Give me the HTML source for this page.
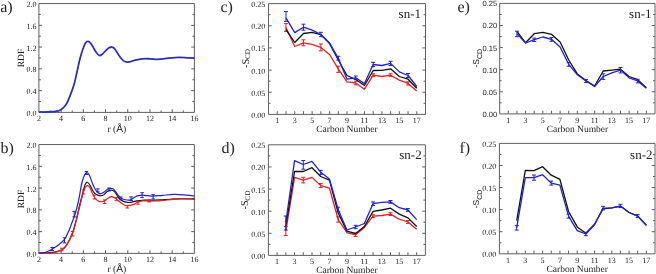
<!DOCTYPE html><html><head><meta charset="utf-8"><style>html,body{margin:0;padding:0;background:#fff;}svg{display:block;will-change:transform;filter:blur(0.3px);}text{text-rendering:geometricPrecision;}text{font-family:"Liberation Serif", serif;fill:#222;}</style></head><body>
<svg width="656" height="274" viewBox="0 0 656 274">
<rect width="656" height="274" fill="#fff"/>
<path d="M38.90 3.55 H194.40 V112.40 H38.90 Z" fill="none" stroke="#606060" stroke-width="1"/>
<path d="M50.01 112.40 V110.40 M61.11 112.40 V109.20 M72.22 112.40 V110.40 M83.33 112.40 V109.20 M94.44 112.40 V110.40 M105.54 112.40 V109.20 M116.65 112.40 V110.40 M127.76 112.40 V109.20 M138.86 112.40 V110.40 M149.97 112.40 V109.20 M161.08 112.40 V110.40 M172.19 112.40 V109.20 M183.29 112.40 V110.40 M38.90 101.52 H40.90 M194.40 101.52 H192.40 M38.90 90.63 H42.10 M194.40 90.63 H191.20 M38.90 79.75 H40.90 M194.40 79.75 H192.40 M38.90 68.86 H42.10 M194.40 68.86 H191.20 M38.90 57.98 H40.90 M194.40 57.98 H192.40 M38.90 47.09 H42.10 M194.40 47.09 H191.20 M38.90 36.20 H40.90 M194.40 36.20 H192.40 M38.90 25.32 H42.10 M194.40 25.32 H191.20 M38.90 14.44 H40.90 M194.40 14.44 H192.40 " stroke="#606060" stroke-width="1" fill="none"/>
<text x="38.90" y="120.50" font-size="8.00" text-anchor="middle" >2</text>
<text x="61.11" y="120.50" font-size="8.00" text-anchor="middle" >4</text>
<text x="83.33" y="120.50" font-size="8.00" text-anchor="middle" >6</text>
<text x="105.54" y="120.50" font-size="8.00" text-anchor="middle" >8</text>
<text x="127.76" y="120.50" font-size="8.00" text-anchor="middle" >10</text>
<text x="149.97" y="120.50" font-size="8.00" text-anchor="middle" >12</text>
<text x="172.19" y="120.50" font-size="8.00" text-anchor="middle" >14</text>
<text x="194.40" y="120.50" font-size="8.00" text-anchor="middle" >16</text>
<text x="36.40" y="115.90" font-size="8.00" text-anchor="end" >0.0</text>
<text x="36.40" y="94.13" font-size="8.00" text-anchor="end" >0.4</text>
<text x="36.40" y="72.36" font-size="8.00" text-anchor="end" >0.8</text>
<text x="36.40" y="50.59" font-size="8.00" text-anchor="end" >1.2</text>
<text x="36.40" y="28.82" font-size="8.00" text-anchor="end" >1.6</text>
<text x="36.40" y="7.05" font-size="8.00" text-anchor="end" >2.0</text>
<path d="M38.90 112.00 C40.18 112.00 43.87 112.08 46.60 112.00 C49.33 111.92 52.93 111.88 55.30 111.50 C57.67 111.12 58.97 110.92 60.80 109.70 C62.63 108.48 64.67 106.75 66.30 104.20 C67.93 101.65 69.28 97.77 70.60 94.40 C71.92 91.03 73.10 87.90 74.20 84.00 C75.30 80.10 76.33 74.83 77.20 71.00 C78.07 67.17 78.72 63.83 79.40 61.00 C80.08 58.17 80.62 56.25 81.30 54.00 C81.98 51.75 82.80 49.33 83.50 47.50 C84.20 45.67 84.80 44.02 85.50 43.00 C86.20 41.98 86.95 41.48 87.70 41.40 C88.45 41.32 89.20 41.73 90.00 42.50 C90.80 43.27 91.67 44.67 92.50 46.00 C93.33 47.33 94.17 49.17 95.00 50.50 C95.83 51.83 96.77 53.17 97.50 54.00 C98.23 54.83 98.65 55.42 99.40 55.50 C100.15 55.58 100.92 55.33 102.00 54.50 C103.08 53.67 104.73 51.62 105.90 50.50 C107.07 49.38 108.12 48.35 109.00 47.80 C109.88 47.25 110.60 47.28 111.20 47.20 C111.80 47.12 112.05 47.07 112.60 47.30 C113.15 47.53 113.67 47.62 114.50 48.60 C115.33 49.58 116.60 51.70 117.60 53.20 C118.60 54.70 119.53 56.37 120.50 57.60 C121.47 58.83 122.48 59.88 123.40 60.60 C124.32 61.32 125.15 61.65 126.00 61.90 C126.85 62.15 127.67 62.17 128.50 62.10 C129.33 62.03 129.90 61.82 131.00 61.50 C132.10 61.18 133.18 60.65 135.10 60.20 C137.02 59.75 140.05 59.03 142.50 58.80 C144.95 58.57 147.12 58.72 149.80 58.80 C152.48 58.88 155.43 59.42 158.60 59.30 C161.77 59.18 165.38 58.42 168.80 58.10 C172.22 57.78 175.93 57.45 179.10 57.40 C182.27 57.35 185.25 57.68 187.80 57.80 C190.35 57.92 193.30 58.05 194.40 58.10" stroke="#4444dd" stroke-width="1.80" fill="none" stroke-linejoin="round"/>
<path d="M38.90 112.00 C40.18 112.00 43.87 112.08 46.60 112.00 C49.33 111.92 52.93 111.88 55.30 111.50 C57.67 111.12 58.97 110.92 60.80 109.70 C62.63 108.48 64.67 106.75 66.30 104.20 C67.93 101.65 69.28 97.77 70.60 94.40 C71.92 91.03 73.10 87.90 74.20 84.00 C75.30 80.10 76.33 74.83 77.20 71.00 C78.07 67.17 78.72 63.83 79.40 61.00 C80.08 58.17 80.62 56.25 81.30 54.00 C81.98 51.75 82.80 49.33 83.50 47.50 C84.20 45.67 84.80 44.02 85.50 43.00 C86.20 41.98 86.95 41.48 87.70 41.40 C88.45 41.32 89.20 41.73 90.00 42.50 C90.80 43.27 91.67 44.67 92.50 46.00 C93.33 47.33 94.17 49.17 95.00 50.50 C95.83 51.83 96.77 53.17 97.50 54.00 C98.23 54.83 98.65 55.42 99.40 55.50 C100.15 55.58 100.92 55.33 102.00 54.50 C103.08 53.67 104.73 51.62 105.90 50.50 C107.07 49.38 108.12 48.35 109.00 47.80 C109.88 47.25 110.60 47.28 111.20 47.20 C111.80 47.12 112.05 47.07 112.60 47.30 C113.15 47.53 113.67 47.62 114.50 48.60 C115.33 49.58 116.60 51.70 117.60 53.20 C118.60 54.70 119.53 56.37 120.50 57.60 C121.47 58.83 122.48 59.88 123.40 60.60 C124.32 61.32 125.15 61.65 126.00 61.90 C126.85 62.15 127.67 62.17 128.50 62.10 C129.33 62.03 129.90 61.82 131.00 61.50 C132.10 61.18 133.18 60.65 135.10 60.20 C137.02 59.75 140.05 59.03 142.50 58.80 C144.95 58.57 147.12 58.72 149.80 58.80 C152.48 58.88 155.43 59.42 158.60 59.30 C161.77 59.18 165.38 58.42 168.80 58.10 C172.22 57.78 175.93 57.45 179.10 57.40 C182.27 57.35 185.25 57.68 187.80 57.80 C190.35 57.92 193.30 58.05 194.40 58.10" stroke="#222280" stroke-width="0.80" fill="none" stroke-linejoin="round"/>
<path d="M38.90 144.55 H194.40 V253.40 H38.90 Z" fill="none" stroke="#606060" stroke-width="1"/>
<path d="M50.01 253.40 V251.40 M61.11 253.40 V250.20 M72.22 253.40 V251.40 M83.33 253.40 V250.20 M94.44 253.40 V251.40 M105.54 253.40 V250.20 M116.65 253.40 V251.40 M127.76 253.40 V250.20 M138.86 253.40 V251.40 M149.97 253.40 V250.20 M161.08 253.40 V251.40 M172.19 253.40 V250.20 M183.29 253.40 V251.40 M38.90 242.52 H40.90 M194.40 242.52 H192.40 M38.90 231.63 H42.10 M194.40 231.63 H191.20 M38.90 220.75 H40.90 M194.40 220.75 H192.40 M38.90 209.86 H42.10 M194.40 209.86 H191.20 M38.90 198.98 H40.90 M194.40 198.98 H192.40 M38.90 188.09 H42.10 M194.40 188.09 H191.20 M38.90 177.21 H40.90 M194.40 177.21 H192.40 M38.90 166.32 H42.10 M194.40 166.32 H191.20 M38.90 155.44 H40.90 M194.40 155.44 H192.40 " stroke="#606060" stroke-width="1" fill="none"/>
<text x="38.90" y="261.50" font-size="8.00" text-anchor="middle" >2</text>
<text x="61.11" y="261.50" font-size="8.00" text-anchor="middle" >4</text>
<text x="83.33" y="261.50" font-size="8.00" text-anchor="middle" >6</text>
<text x="105.54" y="261.50" font-size="8.00" text-anchor="middle" >8</text>
<text x="127.76" y="261.50" font-size="8.00" text-anchor="middle" >10</text>
<text x="149.97" y="261.50" font-size="8.00" text-anchor="middle" >12</text>
<text x="172.19" y="261.50" font-size="8.00" text-anchor="middle" >14</text>
<text x="194.40" y="261.50" font-size="8.00" text-anchor="middle" >16</text>
<text x="36.40" y="256.90" font-size="8.00" text-anchor="end" >0.0</text>
<text x="36.40" y="235.13" font-size="8.00" text-anchor="end" >0.4</text>
<text x="36.40" y="213.36" font-size="8.00" text-anchor="end" >0.8</text>
<text x="36.40" y="191.59" font-size="8.00" text-anchor="end" >1.2</text>
<text x="36.40" y="169.82" font-size="8.00" text-anchor="end" >1.6</text>
<text x="36.40" y="148.05" font-size="8.00" text-anchor="end" >2.0</text>
<path d="M38.70 253.00 C40.25 252.97 45.12 252.98 48.00 252.80 C50.88 252.62 53.60 252.45 56.00 251.90 C58.40 251.35 60.57 250.75 62.40 249.50 C64.23 248.25 65.33 247.15 67.00 244.40 C68.67 241.65 70.85 237.13 72.40 233.00 C73.95 228.87 75.17 223.93 76.30 219.60 C77.43 215.27 78.32 210.68 79.20 207.00 C80.08 203.32 80.87 200.42 81.60 197.50 C82.33 194.58 82.98 191.70 83.60 189.50 C84.22 187.30 84.68 185.52 85.30 184.30 C85.92 183.08 86.58 182.17 87.30 182.20 C88.02 182.23 88.68 183.07 89.60 184.50 C90.52 185.93 91.87 189.25 92.80 190.80 C93.73 192.35 94.45 193.12 95.20 193.80 C95.95 194.48 96.58 194.60 97.30 194.90 C98.02 195.20 98.80 195.47 99.50 195.60 C100.20 195.73 100.75 195.87 101.50 195.70 C102.25 195.53 103.08 195.25 104.00 194.60 C104.92 193.95 106.03 192.52 107.00 191.80 C107.97 191.08 108.80 190.53 109.80 190.30 C110.80 190.07 112.02 189.92 113.00 190.40 C113.98 190.88 114.83 192.05 115.70 193.20 C116.57 194.35 117.32 196.17 118.20 197.30 C119.08 198.43 120.03 199.28 121.00 200.00 C121.97 200.72 122.95 201.22 124.00 201.60 C125.05 201.98 126.40 202.15 127.30 202.30 C128.20 202.45 128.62 202.53 129.40 202.50 C130.18 202.47 130.75 202.37 132.00 202.10 C133.25 201.83 135.23 201.22 136.90 200.90 C138.57 200.58 139.82 200.32 142.00 200.20 C144.18 200.08 147.00 200.25 150.00 200.20 C153.00 200.15 156.67 200.05 160.00 199.90 C163.33 199.75 166.50 199.48 170.00 199.30 C173.50 199.12 176.93 198.87 181.00 198.80 C185.07 198.73 192.17 198.88 194.40 198.90" stroke="#111" stroke-width="1.15" fill="none" stroke-linejoin="round"/>
<path d="M38.70 253.00 C40.58 253.00 47.12 253.17 50.00 253.00 C52.88 252.83 53.93 252.57 56.00 252.00 C58.07 251.43 60.57 250.83 62.40 249.60 C64.23 248.37 65.30 247.32 67.00 244.60 C68.70 241.88 71.02 237.40 72.60 233.30 C74.18 229.20 75.35 224.30 76.50 220.00 C77.65 215.70 78.62 211.17 79.50 207.50 C80.38 203.83 81.08 200.75 81.80 198.00 C82.52 195.25 83.13 192.88 83.80 191.00 C84.47 189.12 85.13 187.58 85.80 186.70 C86.47 185.82 87.13 185.57 87.80 185.70 C88.47 185.83 89.07 186.28 89.80 187.50 C90.53 188.72 91.33 191.25 92.20 193.00 C93.07 194.75 94.12 196.73 95.00 198.00 C95.88 199.27 96.67 200.00 97.50 200.60 C98.33 201.20 99.17 201.43 100.00 201.60 C100.83 201.77 101.67 201.78 102.50 201.60 C103.33 201.42 104.08 201.05 105.00 200.50 C105.92 199.95 107.08 198.90 108.00 198.30 C108.92 197.70 109.82 197.17 110.50 196.90 C111.18 196.63 111.52 196.60 112.10 196.70 C112.68 196.80 113.30 197.15 114.00 197.50 C114.70 197.85 115.47 198.18 116.30 198.80 C117.13 199.42 117.88 200.28 119.00 201.20 C120.12 202.12 121.85 203.57 123.00 204.30 C124.15 205.03 125.12 205.37 125.90 205.60 C126.68 205.83 127.02 205.75 127.70 205.70 C128.38 205.65 128.95 205.52 130.00 205.30 C131.05 205.08 132.83 204.87 134.00 204.40 C135.17 203.93 135.68 203.07 137.00 202.50 C138.32 201.93 140.57 201.27 141.90 201.00 C143.23 200.73 143.78 200.88 145.00 200.90 C146.22 200.92 147.53 201.08 149.20 201.10 C150.87 201.12 152.98 201.07 155.00 201.00 C157.02 200.93 158.25 200.98 161.30 200.70 C164.35 200.42 170.02 199.62 173.30 199.30 C176.58 198.98 177.48 198.85 181.00 198.80 C184.52 198.75 192.17 198.97 194.40 199.00" stroke="#dd2222" stroke-width="1.20" fill="none" stroke-linejoin="round"/>
<path d="M61.80 248.20 V250.80 M60.00 248.20 H63.60 M60.00 250.80 H63.60 M72.70 231.50 V236.00 M70.90 231.50 H74.50 M70.90 236.00 H74.50 M83.50 190.00 V194.00 M81.70 190.00 H85.30 M81.70 194.00 H85.30 M94.50 195.00 V199.00 M92.70 195.00 H96.30 M92.70 199.00 H96.30 M104.70 200.00 V203.50 M102.90 200.00 H106.50 M102.90 203.50 H106.50 M116.40 197.50 V200.70 M114.60 197.50 H118.20 M114.60 200.70 H118.20 M127.30 205.50 V208.00 M125.50 205.50 H129.10 M125.50 208.00 H129.10 M138.00 201.80 V204.20 M136.20 201.80 H139.80 M136.20 204.20 H139.80 M149.20 199.70 V202.00 M147.40 199.70 H151.00 M147.40 202.00 H151.00 " stroke="#dd2222" stroke-width="1" fill="none"/>
<path d="M38.70 253.00 C39.75 252.92 42.75 253.17 45.00 252.50 C47.25 251.83 50.03 250.20 52.20 249.00 C54.37 247.80 55.95 246.92 58.00 245.30 C60.05 243.68 62.67 241.77 64.50 239.30 C66.33 236.83 67.75 233.30 69.00 230.50 C70.25 227.70 70.95 225.33 72.00 222.50 C73.05 219.67 74.18 217.25 75.30 213.50 C76.42 209.75 77.68 204.75 78.70 200.00 C79.72 195.25 80.60 188.75 81.40 185.00 C82.20 181.25 82.82 179.40 83.50 177.50 C84.18 175.60 84.87 174.40 85.50 173.60 C86.13 172.80 86.63 172.38 87.30 172.70 C87.97 173.02 88.58 173.58 89.50 175.50 C90.42 177.42 91.85 181.92 92.80 184.20 C93.75 186.48 94.42 187.87 95.20 189.20 C95.98 190.53 96.73 191.47 97.50 192.20 C98.27 192.93 99.05 193.42 99.80 193.60 C100.55 193.78 101.22 193.60 102.00 193.30 C102.78 193.00 103.58 192.47 104.50 191.80 C105.42 191.13 106.62 189.83 107.50 189.30 C108.38 188.77 108.88 188.68 109.80 188.60 C110.72 188.52 112.02 188.30 113.00 188.80 C113.98 189.30 114.83 190.48 115.70 191.60 C116.57 192.72 117.35 194.45 118.20 195.50 C119.05 196.55 119.92 197.28 120.80 197.90 C121.68 198.52 122.38 198.85 123.50 199.20 C124.62 199.55 126.50 199.85 127.50 200.00 C128.50 200.15 128.83 200.22 129.50 200.10 C130.17 199.98 130.58 199.82 131.50 199.30 C132.42 198.78 133.87 197.62 135.00 197.00 C136.13 196.38 137.12 195.90 138.30 195.60 C139.48 195.30 140.47 195.18 142.10 195.20 C143.73 195.22 146.27 195.53 148.10 195.70 C149.93 195.87 150.72 196.25 153.10 196.20 C155.48 196.15 158.85 195.72 162.40 195.40 C165.95 195.08 170.38 194.35 174.40 194.30 C178.42 194.25 183.17 194.82 186.50 195.10 C189.83 195.38 193.08 195.85 194.40 196.00" stroke="#2222cc" stroke-width="1.20" fill="none" stroke-linejoin="round"/>
<path d="M52.20 247.50 V250.50 M50.40 247.50 H54.00 M50.40 250.50 H54.00 M64.50 237.80 V242.90 M62.70 237.80 H66.30 M62.70 242.90 H66.30 M74.20 211.40 V216.90 M72.40 211.40 H76.00 M72.40 216.90 H76.00 M86.40 171.50 V174.50 M84.60 171.50 H88.20 M84.60 174.50 H88.20 M97.80 188.90 V191.80 M96.00 188.90 H99.60 M96.00 191.80 H99.60 M109.10 188.00 V191.00 M107.30 188.00 H110.90 M107.30 191.00 H110.90 M120.80 197.00 V199.80 M119.00 197.00 H122.60 M119.00 199.80 H122.60 M131.00 196.90 V200.50 M129.20 196.90 H132.80 M129.20 200.50 H132.80 M142.10 192.70 V197.60 M140.30 192.70 H143.90 M140.30 197.60 H143.90 M153.10 194.60 V199.00 M151.30 194.60 H154.90 M151.30 199.00 H154.90 " stroke="#2222cc" stroke-width="1" fill="none"/>
<path d="M268.55 3.60 H425.50 V114.40 H268.55 Z" fill="none" stroke="#606060" stroke-width="1"/>
<path d="M277.27 114.40 V111.20 M285.99 114.40 V111.20 M294.71 114.40 V111.20 M303.43 114.40 V111.20 M312.15 114.40 V111.20 M320.87 114.40 V111.20 M329.59 114.40 V111.20 M338.31 114.40 V111.20 M347.02 114.40 V111.20 M355.74 114.40 V111.20 M364.46 114.40 V111.20 M373.18 114.40 V111.20 M381.90 114.40 V111.20 M390.62 114.40 V111.20 M399.34 114.40 V111.20 M408.06 114.40 V111.20 M416.78 114.40 V111.20 M268.55 103.32 H270.55 M425.50 103.32 H423.50 M268.55 92.24 H271.75 M425.50 92.24 H422.30 M268.55 81.16 H270.55 M425.50 81.16 H423.50 M268.55 70.08 H271.75 M425.50 70.08 H422.30 M268.55 59.00 H270.55 M425.50 59.00 H423.50 M268.55 47.92 H271.75 M425.50 47.92 H422.30 M268.55 36.84 H270.55 M425.50 36.84 H423.50 M268.55 25.76 H271.75 M425.50 25.76 H422.30 M268.55 14.68 H270.55 M425.50 14.68 H423.50 " stroke="#606060" stroke-width="1" fill="none"/>
<text x="277.27" y="123.30" font-size="8.00" text-anchor="middle" >1</text>
<text x="294.71" y="123.30" font-size="8.00" text-anchor="middle" >3</text>
<text x="312.15" y="123.30" font-size="8.00" text-anchor="middle" >5</text>
<text x="329.59" y="123.30" font-size="8.00" text-anchor="middle" >7</text>
<text x="347.02" y="123.30" font-size="8.00" text-anchor="middle" >9</text>
<text x="364.46" y="123.30" font-size="8.00" text-anchor="middle" >11</text>
<text x="381.90" y="123.30" font-size="8.00" text-anchor="middle" >13</text>
<text x="399.34" y="123.30" font-size="8.00" text-anchor="middle" >15</text>
<text x="416.78" y="123.30" font-size="8.00" text-anchor="middle" >17</text>
<text x="265.35" y="117.90" font-size="8.00" text-anchor="end" >0.00</text>
<text x="265.35" y="95.74" font-size="8.00" text-anchor="end" >0.05</text>
<text x="265.35" y="73.58" font-size="8.00" text-anchor="end" >0.10</text>
<text x="265.35" y="51.42" font-size="8.00" text-anchor="end" >0.15</text>
<text x="265.35" y="29.26" font-size="8.00" text-anchor="end" >0.20</text>
<text x="265.35" y="7.10" font-size="8.00" text-anchor="end" >0.25</text>
<path d="M285.99 27.50 L294.71 46.50 L303.43 42.80 L312.15 44.30 L320.87 47.40 L329.59 54.50 L338.31 68.80 L347.02 81.80 L355.74 83.00 L364.46 89.20 L373.18 75.20 L381.90 76.50 L390.62 75.20 L399.34 80.10 L408.06 83.40 L416.78 91.10" stroke="#dd2222" stroke-width="1.30" fill="none" stroke-linejoin="round"/>
<path d="M285.99 23.60 V31.40 M283.99 23.60 H287.99 M283.99 31.40 H287.99 M303.43 39.80 V45.80 M301.43 39.80 H305.43 M301.43 45.80 H305.43 M320.87 44.00 V50.80 M318.87 44.00 H322.87 M318.87 50.80 H322.87 M338.31 66.20 V72.40 M336.31 66.20 H340.31 M336.31 72.40 H340.31 M355.74 81.20 V84.80 M353.74 81.20 H357.74 M353.74 84.80 H357.74 M373.18 73.80 V76.60 M371.18 73.80 H375.18 M371.18 76.60 H375.18 M390.62 73.80 V76.60 M388.62 73.80 H392.62 M388.62 76.60 H392.62 M408.06 81.80 V85.00 M406.06 81.80 H410.06 M406.06 85.00 H410.06 " stroke="#dd2222" stroke-width="1" fill="none"/>
<path d="M285.99 29.60 L294.71 42.50 L303.43 33.50 L312.15 32.30 L320.87 34.60 L329.59 43.60 L338.31 60.00 L347.02 75.50 L355.74 79.50 L364.46 85.50 L373.18 70.50 L381.90 70.40 L390.62 68.80 L399.34 76.50 L408.06 79.20 L416.78 88.30" stroke="#111" stroke-width="1.30" fill="none" stroke-linejoin="round"/>
<path d="M285.99 17.80 L294.71 32.60 L303.43 27.20 L312.15 30.20 L320.87 34.50 L329.59 43.00 L338.31 58.30 L347.02 79.20 L355.74 77.80 L364.46 83.60 L373.18 64.50 L381.90 65.50 L390.62 63.40 L399.34 71.90 L408.06 75.50 L416.78 86.50" stroke="#2222cc" stroke-width="1.30" fill="none" stroke-linejoin="round"/>
<path d="M285.99 11.60 V21.40 M283.99 11.60 H287.99 M283.99 21.40 H287.99 M303.43 24.20 V30.20 M301.43 24.20 H305.43 M301.43 30.20 H305.43 M320.87 32.30 V36.70 M318.87 32.30 H322.87 M318.87 36.70 H322.87 M338.31 56.30 V60.10 M336.31 56.30 H340.31 M336.31 60.10 H340.31 M355.74 76.00 V79.40 M353.74 76.00 H357.74 M353.74 79.40 H357.74 M373.18 62.30 V66.70 M371.18 62.30 H375.18 M371.18 66.70 H375.18 M390.62 61.30 V65.50 M388.62 61.30 H392.62 M388.62 65.50 H392.62 M408.06 73.50 V77.50 M406.06 73.50 H410.06 M406.06 77.50 H410.06 " stroke="#2222cc" stroke-width="1" fill="none"/>
<path d="M268.40 144.80 H425.40 V255.40 H268.40 Z" fill="none" stroke="#606060" stroke-width="1"/>
<path d="M277.12 255.40 V252.20 M285.84 255.40 V252.20 M294.57 255.40 V252.20 M303.29 255.40 V252.20 M312.01 255.40 V252.20 M320.73 255.40 V252.20 M329.46 255.40 V252.20 M338.18 255.40 V252.20 M346.90 255.40 V252.20 M355.62 255.40 V252.20 M364.34 255.40 V252.20 M373.07 255.40 V252.20 M381.79 255.40 V252.20 M390.51 255.40 V252.20 M399.23 255.40 V252.20 M407.96 255.40 V252.20 M416.68 255.40 V252.20 M268.40 244.34 H270.40 M425.40 244.34 H423.40 M268.40 233.28 H271.60 M425.40 233.28 H422.20 M268.40 222.22 H270.40 M425.40 222.22 H423.40 M268.40 211.16 H271.60 M425.40 211.16 H422.20 M268.40 200.10 H270.40 M425.40 200.10 H423.40 M268.40 189.04 H271.60 M425.40 189.04 H422.20 M268.40 177.98 H270.40 M425.40 177.98 H423.40 M268.40 166.92 H271.60 M425.40 166.92 H422.20 M268.40 155.86 H270.40 M425.40 155.86 H423.40 " stroke="#606060" stroke-width="1" fill="none"/>
<text x="277.12" y="264.30" font-size="8.00" text-anchor="middle" >1</text>
<text x="294.57" y="264.30" font-size="8.00" text-anchor="middle" >3</text>
<text x="312.01" y="264.30" font-size="8.00" text-anchor="middle" >5</text>
<text x="329.46" y="264.30" font-size="8.00" text-anchor="middle" >7</text>
<text x="346.90" y="264.30" font-size="8.00" text-anchor="middle" >9</text>
<text x="364.34" y="264.30" font-size="8.00" text-anchor="middle" >11</text>
<text x="381.79" y="264.30" font-size="8.00" text-anchor="middle" >13</text>
<text x="399.23" y="264.30" font-size="8.00" text-anchor="middle" >15</text>
<text x="416.68" y="264.30" font-size="8.00" text-anchor="middle" >17</text>
<text x="265.20" y="258.90" font-size="8.00" text-anchor="end" >0.00</text>
<text x="265.20" y="236.78" font-size="8.00" text-anchor="end" >0.05</text>
<text x="265.20" y="214.66" font-size="8.00" text-anchor="end" >0.10</text>
<text x="265.20" y="192.54" font-size="8.00" text-anchor="end" >0.15</text>
<text x="265.20" y="170.42" font-size="8.00" text-anchor="end" >0.20</text>
<text x="265.20" y="148.30" font-size="8.00" text-anchor="end" >0.25</text>
<path d="M285.84 231.00 L294.57 177.40 L303.29 180.10 L312.01 177.40 L320.73 185.60 L329.46 188.10 L338.18 219.50 L346.90 232.60 L355.62 234.80 L364.34 227.40 L373.07 216.20 L381.79 215.50 L390.51 214.10 L399.23 219.20 L407.96 222.00 L416.68 229.20" stroke="#dd2222" stroke-width="1.30" fill="none" stroke-linejoin="round"/>
<path d="M285.84 226.60 V235.40 M283.84 226.60 H287.84 M283.84 235.40 H287.84 M303.29 177.30 V182.90 M301.29 177.30 H305.29 M301.29 182.90 H305.29 M320.73 183.60 V187.60 M318.73 183.60 H322.73 M318.73 187.60 H322.73 M338.18 216.80 V222.20 M336.18 216.80 H340.18 M336.18 222.20 H340.18 M355.62 233.20 V236.40 M353.62 233.20 H357.62 M353.62 236.40 H357.62 M373.07 214.80 V217.60 M371.07 214.80 H375.07 M371.07 217.60 H375.07 M390.51 212.70 V215.50 M388.51 212.70 H392.51 M388.51 215.50 H392.51 M407.96 220.60 V223.40 M405.96 220.60 H409.96 M405.96 223.40 H409.96 " stroke="#dd2222" stroke-width="1" fill="none"/>
<path d="M285.84 226.00 L294.57 171.50 L303.29 171.50 L312.01 167.70 L320.73 176.50 L329.46 180.20 L338.18 213.00 L346.90 231.20 L355.62 233.50 L364.34 226.50 L373.07 211.40 L381.79 210.00 L390.51 208.20 L399.23 214.10 L407.96 217.90 L416.68 226.50" stroke="#111" stroke-width="1.30" fill="none" stroke-linejoin="round"/>
<path d="M285.84 222.00 L294.57 160.60 L303.29 164.50 L312.01 161.30 L320.73 172.30 L329.46 179.10 L338.18 209.50 L346.90 230.00 L355.62 227.00 L364.34 223.50 L373.07 203.70 L381.79 202.40 L390.51 201.90 L399.23 207.70 L407.96 210.00 L416.68 219.60" stroke="#2222cc" stroke-width="1.30" fill="none" stroke-linejoin="round"/>
<path d="M285.84 216.00 V230.00 M283.84 216.00 H287.84 M283.84 230.00 H287.84 M303.29 160.50 V169.20 M301.29 160.50 H305.29 M301.29 169.20 H305.29 M320.73 170.40 V174.40 M318.73 170.40 H322.73 M318.73 174.40 H322.73 M338.18 207.20 V211.80 M336.18 207.20 H340.18 M336.18 211.80 H340.18 M355.62 225.30 V228.70 M353.62 225.30 H357.62 M353.62 228.70 H357.62 M373.07 201.90 V205.50 M371.07 201.90 H375.07 M371.07 205.50 H375.07 M390.51 200.50 V203.30 M388.51 200.50 H392.51 M388.51 203.30 H392.51 M407.96 208.60 V211.40 M405.96 208.60 H409.96 M405.96 211.40 H409.96 " stroke="#2222cc" stroke-width="1" fill="none"/>
<path d="M499.70 3.40 H655.00 V113.90 H499.70 Z" fill="none" stroke="#606060" stroke-width="1"/>
<path d="M508.33 113.90 V110.70 M516.96 113.90 V110.70 M525.58 113.90 V110.70 M534.21 113.90 V110.70 M542.84 113.90 V110.70 M551.47 113.90 V110.70 M560.09 113.90 V110.70 M568.72 113.90 V110.70 M577.35 113.90 V110.70 M585.98 113.90 V110.70 M594.61 113.90 V110.70 M603.23 113.90 V110.70 M611.86 113.90 V110.70 M620.49 113.90 V110.70 M629.12 113.90 V110.70 M637.74 113.90 V110.70 M646.37 113.90 V110.70 M499.70 102.85 H501.70 M655.00 102.85 H653.00 M499.70 91.80 H502.90 M655.00 91.80 H651.80 M499.70 80.75 H501.70 M655.00 80.75 H653.00 M499.70 69.70 H502.90 M655.00 69.70 H651.80 M499.70 58.65 H501.70 M655.00 58.65 H653.00 M499.70 47.60 H502.90 M655.00 47.60 H651.80 M499.70 36.55 H501.70 M655.00 36.55 H653.00 M499.70 25.50 H502.90 M655.00 25.50 H651.80 M499.70 14.45 H501.70 M655.00 14.45 H653.00 " stroke="#606060" stroke-width="1" fill="none"/>
<text x="508.33" y="122.80" font-size="8.00" text-anchor="middle" >1</text>
<text x="525.58" y="122.80" font-size="8.00" text-anchor="middle" >3</text>
<text x="542.84" y="122.80" font-size="8.00" text-anchor="middle" >5</text>
<text x="560.09" y="122.80" font-size="8.00" text-anchor="middle" >7</text>
<text x="577.35" y="122.80" font-size="8.00" text-anchor="middle" >9</text>
<text x="594.61" y="122.80" font-size="8.00" text-anchor="middle" >11</text>
<text x="611.86" y="122.80" font-size="8.00" text-anchor="middle" >13</text>
<text x="629.12" y="122.80" font-size="8.00" text-anchor="middle" >15</text>
<text x="646.37" y="122.80" font-size="8.00" text-anchor="middle" >17</text>
<text x="497.30" y="116.80" font-size="7.60" text-anchor="end" style="font-family:'Liberation Sans',sans-serif">0.00</text>
<text x="497.30" y="94.70" font-size="7.60" text-anchor="end" style="font-family:'Liberation Sans',sans-serif">0.05</text>
<text x="497.30" y="72.60" font-size="7.60" text-anchor="end" style="font-family:'Liberation Sans',sans-serif">0.10</text>
<text x="497.30" y="50.50" font-size="7.60" text-anchor="end" style="font-family:'Liberation Sans',sans-serif">0.15</text>
<text x="497.30" y="28.40" font-size="7.60" text-anchor="end" style="font-family:'Liberation Sans',sans-serif">0.20</text>
<text x="497.30" y="6.30" font-size="7.60" text-anchor="end" style="font-family:'Liberation Sans',sans-serif">0.25</text>
<path d="M516.96 31.30 L525.58 42.80 L534.21 33.70 L542.84 32.30 L551.47 34.30 L560.09 42.00 L568.72 60.00 L577.35 73.90 L585.98 80.50 L594.61 86.00 L603.23 71.00 L611.86 70.10 L620.49 69.20 L629.12 76.50 L637.74 79.60 L646.37 87.80" stroke="#111" stroke-width="1.30" fill="none" stroke-linejoin="round"/>
<path d="M516.96 33.50 L525.58 43.00 L534.21 39.70 L542.84 37.00 L551.47 39.30 L560.09 47.00 L568.72 64.30 L577.35 74.80 L585.98 81.00 L594.61 86.50 L603.23 76.50 L611.86 72.80 L620.49 70.10 L629.12 77.80 L637.74 81.00 L646.37 88.30" stroke="#2222cc" stroke-width="1.30" fill="none" stroke-linejoin="round"/>
<path d="M516.96 31.20 V36.70 M514.96 31.20 H518.96 M514.96 36.70 H518.96 M534.21 38.10 V41.50 M532.21 38.10 H536.21 M532.21 41.50 H536.21 M551.47 37.60 V41.20 M549.47 37.60 H553.47 M549.47 41.20 H553.47 M568.72 62.60 V66.20 M566.72 62.60 H570.72 M566.72 66.20 H570.72 M585.98 79.60 V82.60 M583.98 79.60 H587.98 M583.98 82.60 H587.98 M603.23 73.80 V79.40 M601.23 73.80 H605.23 M601.23 79.40 H605.23 M620.49 67.50 V72.90 M618.49 67.50 H622.49 M618.49 72.90 H622.49 M637.74 79.30 V82.90 M635.74 79.30 H639.74 M635.74 82.90 H639.74 " stroke="#2222cc" stroke-width="1" fill="none"/>
<path d="M499.40 143.40 H655.00 V253.80 H499.40 Z" fill="none" stroke="#606060" stroke-width="1"/>
<path d="M508.04 253.80 V250.60 M516.69 253.80 V250.60 M525.33 253.80 V250.60 M533.98 253.80 V250.60 M542.62 253.80 V250.60 M551.27 253.80 V250.60 M559.91 253.80 V250.60 M568.56 253.80 V250.60 M577.20 253.80 V250.60 M585.84 253.80 V250.60 M594.49 253.80 V250.60 M603.13 253.80 V250.60 M611.78 253.80 V250.60 M620.42 253.80 V250.60 M629.07 253.80 V250.60 M637.71 253.80 V250.60 M646.36 253.80 V250.60 M499.40 242.76 H501.40 M655.00 242.76 H653.00 M499.40 231.72 H502.60 M655.00 231.72 H651.80 M499.40 220.68 H501.40 M655.00 220.68 H653.00 M499.40 209.64 H502.60 M655.00 209.64 H651.80 M499.40 198.60 H501.40 M655.00 198.60 H653.00 M499.40 187.56 H502.60 M655.00 187.56 H651.80 M499.40 176.52 H501.40 M655.00 176.52 H653.00 M499.40 165.48 H502.60 M655.00 165.48 H651.80 M499.40 154.44 H501.40 M655.00 154.44 H653.00 " stroke="#606060" stroke-width="1" fill="none"/>
<text x="508.04" y="262.70" font-size="8.00" text-anchor="middle" >1</text>
<text x="525.33" y="262.70" font-size="8.00" text-anchor="middle" >3</text>
<text x="542.62" y="262.70" font-size="8.00" text-anchor="middle" >5</text>
<text x="559.91" y="262.70" font-size="8.00" text-anchor="middle" >7</text>
<text x="577.20" y="262.70" font-size="8.00" text-anchor="middle" >9</text>
<text x="594.49" y="262.70" font-size="8.00" text-anchor="middle" >11</text>
<text x="611.78" y="262.70" font-size="8.00" text-anchor="middle" >13</text>
<text x="629.07" y="262.70" font-size="8.00" text-anchor="middle" >15</text>
<text x="646.36" y="262.70" font-size="8.00" text-anchor="middle" >17</text>
<text x="496.20" y="257.30" font-size="8.00" text-anchor="end" >0.00</text>
<text x="496.20" y="235.22" font-size="8.00" text-anchor="end" >0.05</text>
<text x="496.20" y="213.14" font-size="8.00" text-anchor="end" >0.10</text>
<text x="496.20" y="191.06" font-size="8.00" text-anchor="end" >0.15</text>
<text x="496.20" y="168.98" font-size="8.00" text-anchor="end" >0.20</text>
<text x="496.20" y="146.90" font-size="8.00" text-anchor="end" >0.25</text>
<path d="M516.69 220.60 L525.33 170.30 L533.98 170.70 L542.62 166.70 L551.27 175.20 L559.91 179.40 L568.56 211.50 L577.20 226.90 L585.84 233.30 L594.49 224.30 L603.13 208.80 L611.78 207.90 L620.42 206.10 L629.07 212.50 L637.71 216.10 L646.36 225.30" stroke="#111" stroke-width="1.30" fill="none" stroke-linejoin="round"/>
<path d="M516.69 227.60 L525.33 177.60 L533.98 177.60 L542.62 174.70 L551.27 183.10 L559.91 185.10 L568.56 216.10 L577.20 230.70 L585.84 234.00 L594.49 224.80 L603.13 208.10 L611.78 207.90 L620.42 206.10 L629.07 212.50 L637.71 216.10 L646.36 225.30" stroke="#2222cc" stroke-width="1.30" fill="none" stroke-linejoin="round"/>
<path d="M516.69 225.60 V230.10 M514.69 225.60 H518.69 M514.69 230.10 H518.69 M533.98 175.00 V180.20 M531.98 175.00 H535.98 M531.98 180.20 H535.98 M551.27 181.10 V185.10 M549.27 181.10 H553.27 M549.27 185.10 H553.27 M568.56 214.10 V218.10 M566.56 214.10 H570.56 M566.56 218.10 H570.56 M585.84 232.30 V235.70 M583.84 232.30 H587.84 M583.84 235.70 H587.84 M603.13 206.30 V209.90 M601.13 206.30 H605.13 M601.13 209.90 H605.13 M620.42 204.30 V207.50 M618.42 204.30 H622.42 M618.42 207.50 H622.42 M637.71 214.60 V217.60 M635.71 214.60 H639.71 M635.71 217.60 H639.71 " stroke="#2222cc" stroke-width="1" fill="none"/>
<text x="0.15" y="11.60" font-size="16.00" text-anchor="start" >a)</text>
<text x="0.60" y="152.70" font-size="16.00" text-anchor="start" >b)</text>
<text x="220.50" y="11.60" font-size="16.00" text-anchor="start" >c)</text>
<text x="221.50" y="152.70" font-size="16.00" text-anchor="start" >d)</text>
<text x="457.40" y="11.60" font-size="16.00" text-anchor="start" >e)</text>
<text x="459.50" y="152.70" font-size="16.00" text-anchor="start" >f)</text>
<text x="421.00" y="17.80" font-size="13.00" text-anchor="end" >sn-1</text>
<text x="421.70" y="159.40" font-size="13.00" text-anchor="end" >sn-2</text>
<text x="651.50" y="18.20" font-size="13.00" text-anchor="end" >sn-1</text>
<text x="652.50" y="159.40" font-size="13.00" text-anchor="end" >sn-2</text>
<text x="116.90" y="131.60" font-size="9.50" text-anchor="middle" >r (<tspan style="font-family:'Liberation Sans',sans-serif" font-size="10.2">Å</tspan>)</text>
<text x="116.90" y="271.80" font-size="9.50" text-anchor="middle" >r (<tspan style="font-family:'Liberation Sans',sans-serif" font-size="10.2">Å</tspan>)</text>
<text x="347.00" y="131.70" font-size="9.50" text-anchor="middle" >Carbon Number</text>
<text x="346.90" y="272.50" font-size="9.50" text-anchor="middle" >Carbon Number</text>
<text x="577.50" y="131.70" font-size="9.50" text-anchor="middle" >Carbon Number</text>
<text x="577.20" y="271.90" font-size="9.50" text-anchor="middle" >Carbon Number</text>
<text transform="translate(23.60 58.00) rotate(-90)" font-size="9.5" text-anchor="middle">RDF</text>
<text transform="translate(23.60 199.00) rotate(-90)" font-size="9.5" text-anchor="middle">RDF</text>
<text transform="translate(248.80 58.40) rotate(-90)" font-size="10.4" text-anchor="middle">-S<tspan font-size="7.3" dx="-0.4" dy="1.6">CD</tspan></text>
<text transform="translate(248.30 200.00) rotate(-90)" font-size="10.4" text-anchor="middle">-S<tspan font-size="7.3" dx="-0.4" dy="1.6">CD</tspan></text>
<text transform="translate(479.00 58.20) rotate(-90)" font-size="8.5" text-anchor="middle" style="font-family:'Liberation Sans',sans-serif">-S<tspan font-size="7" dy="2.5">CD</tspan></text>
<text transform="translate(479.00 198.90) rotate(-90)" font-size="8.5" text-anchor="middle" style="font-family:'Liberation Sans',sans-serif">-S<tspan font-size="7" dy="2.5">CD</tspan></text>
</svg></body></html>
